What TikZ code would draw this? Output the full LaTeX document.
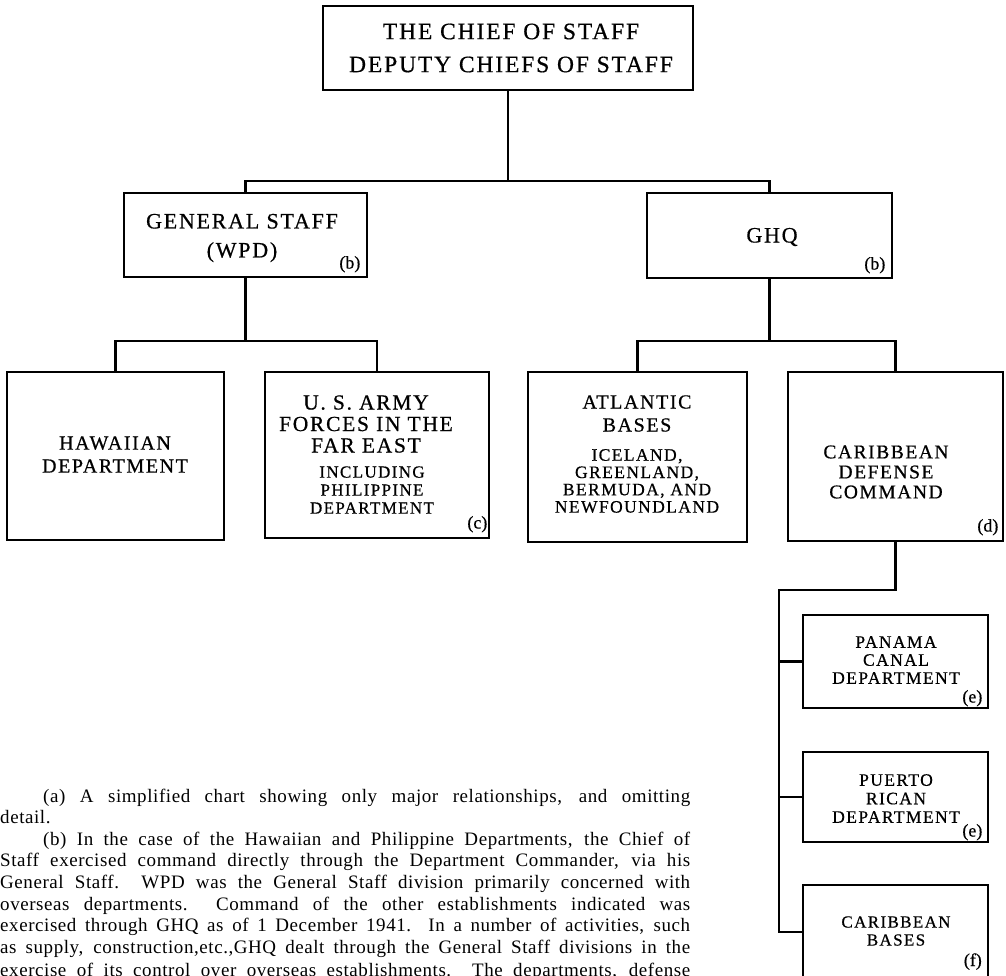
\documentclass[tikz,border=0pt]{standalone}
\usepackage{fontspec}
\setmainfont{Liberation Serif}
\newfontfamily\boxfont[LetterSpace=8, FakeBold=0.6]{Liberation Serif}
\newfontfamily\notefont[LetterSpace=3]{Liberation Serif}
\newfontfamily\lblfont[FakeBold=0.6]{Liberation Serif}
\tikzset{
  orgbox/.style={draw=black, line width=1.1pt, rectangle, inner sep=0pt},
  boxtext/.style={align=center, inner sep=0pt},
  link/.style={draw=black, line width=2.8pt, line cap=rect},
  lbl/.style={font=\lblfont\fontsize{18}{18}\selectfont, inner sep=0pt, anchor=base east},
  noteline/.style={font=\notefont\fontsize{19}{19}\selectfont, inner sep=0pt, anchor=base west}
}
\newcommand{\bfs}[2]{\boxfont\fontsize{#1}{#2}\selectfont}
\newcommand{\jline}[1]{\makebox[690pt][s]{#1}}
\newcommand{\jlinei}[1]{\makebox[647pt][s]{#1}}
\begin{document}
\begin{tikzpicture}[x=1pt, y=-1pt]
\useasboundingbox (0,0) rectangle (1006,975);
\clip (0,0) rectangle (1006,975);

% boxes
\node[orgbox, minimum width=370pt, minimum height=84pt] (top) at (508,48) {};
\node[orgbox, minimum width=243pt, minimum height=84pt] (gs) at (245.5,235) {};
\node[orgbox, minimum width=245pt, minimum height=85pt] (ghq) at (769.5,235.5) {};
\node[orgbox, minimum width=217pt, minimum height=168pt] (haw) at (115.5,456) {};
\node[orgbox, minimum width=224pt, minimum height=166pt] (usa) at (377,455) {};
\node[orgbox, minimum width=219pt, minimum height=170pt] (atl) at (637.5,457) {};
\node[orgbox, minimum width=215pt, minimum height=169pt] (cdc) at (895.5,456.5) {};
\node[orgbox, minimum width=185pt, minimum height=93pt] (pan) at (895.5,661.5) {};
\node[orgbox, minimum width=185pt, minimum height=90pt] (pr) at (895.5,797) {};
\node[orgbox, minimum width=185pt, minimum height=94pt] (cb) at (895.5,932) {};

% box texts
\node[boxtext, font=\bfs{23.5}{33}] (topT) at (511,48) {THE CHIEF OF STAFF\\DEPUTY CHIEFS OF STAFF};
\node[boxtext, font=\bfs{22}{29}] (gsT) at (242,238) {GENERAL STAFF\\(WPD)};
\node[boxtext, font=\bfs{22}{29}] (ghqT) at (772,237) {GHQ};
\node[boxtext, font=\bfs{20}{23}] (hawT) at (115,454.5) {HAWAIIAN\\DEPARTMENT};
\node[boxtext, font=\bfs{21.5}{21.5}] (usaA) at (366,424) {U. S. ARMY\\FORCES IN THE\\FAR EAST};
\node[boxtext, font=\bfs{17}{18}] (usaB) at (372,490) {INCLUDING\\PHILIPPINE\\DEPARTMENT};
\node[boxtext, font=\bfs{20}{23}] (atlA) at (637,413.5) {ATLANTIC\\BASES};
\node[boxtext, font=\bfs{17.5}{17.3}] (atlB) at (637,481) {ICELAND,\\GREENLAND,\\BERMUDA, AND\\NEWFOUNDLAND};
\node[boxtext, font=\bfs{19.5}{20}] (cdcT) at (886,472) {CARIBBEAN\\DEFENSE\\COMMAND};
\node[boxtext, font=\bfs{17.5}{18}] (panT) at (896,660) {PANAMA\\CANAL\\DEPARTMENT};
\node[boxtext, font=\bfs{17.5}{18.5}] (prT) at (896,798.5) {PUERTO\\RICAN\\DEPARTMENT};
\node[boxtext, font=\bfs{17}{18}] (cbT) at (896,931) {CARIBBEAN\\BASES};

% footnote letters
\node[lbl] (lb1) at ([xshift=-7pt, yshift=9pt]gs.south east) {(b)};
\node[lbl] (lb2) at ([xshift=-7pt, yshift=9pt]ghq.south east) {(b)};
\node[lbl] (lc) at ([xshift=-2pt, yshift=10pt]usa.south east) {(c)};
\node[lbl] (ld) at ([xshift=-5pt, yshift=10pt]cdc.south east) {(d)};
\node[lbl] (le1) at ([xshift=-6pt, yshift=6pt]pan.south east) {(e)};
\node[lbl] (le2) at ([xshift=-6pt, yshift=6pt]pr.south east) {(e)};
\node[lbl] (lf) at (982,966) {(f)};

% connectors
\coordinate (j1) at (508,181);
\coordinate (j2) at (245.5,341);
\coordinate (j3) at (769.5,341);
\coordinate (j4) at (779,590);
\draw[link] (top.south) -- (j1);
\draw[link] (gs.north) |- (j1) -| (ghq.north);
\draw[link] (gs.south) -- (j2);
\draw[link] (haw.north) |- (j2) -| (usa.north);
\draw[link] (ghq.south) -- (j3);
\draw[link] (atl.north) |- (j3) -| (cdc.north);
\draw[link] (cdc.south) |- (j4);
\draw[link] (j4) |- (cb.west);
\draw[link] (j4 |- pan.west) -- (pan.west);
\draw[link] (j4 |- pr.west) -- (pr.west);

% footnote text
\node[noteline] (n1) at (43,802) {\jlinei{(a) A simplified chart showing only major relationships, and omitting}};
\node[noteline] (n2) at (0,823.6) {detail.};
\node[noteline] (n3) at (43,845.2) {\jlinei{(b) In the case of the Hawaiian and Philippine Departments, the Chief of}};
\node[noteline] (n4) at (0,866.8) {\jline{Staff exercised command directly through the Department Commander, via his}};
\node[noteline] (n5) at (0,888.4) {\jline{General Staff.\ \ WPD was the General Staff division primarily concerned with}};
\node[noteline] (n6) at (0,910) {\jline{overseas departments.\ \ Command of the other establishments indicated was}};
\node[noteline] (n7) at (0,931.6) {\jline{exercised through GHQ as of 1 December 1941.\ \ In a number of activities, such}};
\node[noteline] (n8) at (0,953.2) {\jline{as supply, construction,etc.,GHQ dealt through the General Staff divisions in the}};
\node[noteline] (n9) at (0,976) {\jline{exercise of its control over overseas establishments.\ \ The departments, defense}};
\end{tikzpicture}
\end{document}
